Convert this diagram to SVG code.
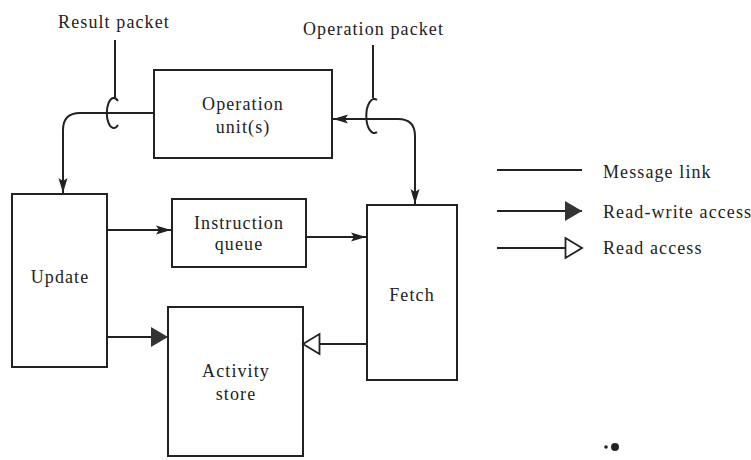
<svg xmlns="http://www.w3.org/2000/svg" width="751" height="460" viewBox="0 0 751 460">
<style>
text{font-family:"Liberation Serif",serif;font-size:18px;letter-spacing:1.1px;fill:#222}
.c{text-anchor:middle}
.box{fill:#fff;stroke:#222;stroke-width:2}
.ln{fill:none;stroke:#222;stroke-width:2}
</style>
<defs>
<marker id="msg" markerUnits="userSpaceOnUse" markerWidth="16" markerHeight="12" refX="15" refY="6" orient="auto-start-reverse">
<path d="M0,1.5 L15,6 L0,10.5 L3,6 Z" fill="#222"/>
</marker>
<marker id="rw" markerUnits="userSpaceOnUse" markerWidth="18" markerHeight="22" refX="17" refY="11" orient="auto">
<path d="M0,1 L17,11 L0,21 Z" fill="#333"/>
</marker>
<marker id="rd" markerUnits="userSpaceOnUse" markerWidth="20" markerHeight="24" refX="18" refY="12" orient="auto">
<path d="M1.5,2 L18,12 L1.5,22 Z" fill="#fff" stroke="#222" stroke-width="1.8"/>
</marker>
</defs>
<rect width="751" height="460" fill="#fff"/>

<g id="labels">
<text class="c" x="114" y="28">Result packet</text>
<text x="303" y="35">Operation packet</text>
</g>

<g id="operation-unit">
<rect class="box" x="154" y="70" width="178" height="88"/>
<text class="c" x="243" y="110">Operation</text>
<text class="c" x="243" y="133">unit(s)</text>
</g>
<g id="update">
<rect class="box" x="12" y="194" width="95" height="173"/>
<text class="c" x="60" y="283">Update</text>
</g>
<g id="instruction-queue">
<rect class="box" x="172" y="199" width="134" height="68"/>
<text class="c" x="239" y="229">Instruction</text>
<text class="c" x="239" y="250">queue</text>
</g>
<g id="fetch">
<rect class="box" x="367" y="205" width="90" height="175"/>
<text class="c" x="412" y="301">Fetch</text>
</g>
<g id="activity-store">
<rect class="box" x="168" y="307" width="135" height="149"/>
<text class="c" x="236" y="377">Activity</text>
<text class="c" x="236" y="400">store</text>
</g>

<g id="connectors">
<path class="ln" d="M154,113 H80 Q63,113 63,130 V193" marker-end="url(#msg)"/>
<path class="ln" d="M333,119 H398 Q415,119 415,136 V204" marker-start="url(#msg)" marker-end="url(#msg)"/>
<path class="ln" d="M115,40 V98"/>
<path class="ln" d="M118,101 A7,15 0 1 0 118,125"/>
<path class="ln" d="M373,45 V98"/>
<path class="ln" d="M377,100 A8,17 0 1 0 377,132"/>
<path class="ln" d="M107,230 H171" marker-end="url(#msg)"/>
<path class="ln" d="M306,237 H366" marker-end="url(#msg)"/>
<path class="ln" d="M107,337 H168" marker-end="url(#rw)"/>
<path class="ln" d="M367,344 H303" marker-end="url(#rd)"/>
</g>

<g id="legend">
<path class="ln" d="M497,170 H582"/>
<text x="603" y="178">Message link</text>
<path class="ln" d="M497,211 H582" marker-end="url(#rw)"/>
<text x="603" y="218">Read-write access</text>
<path class="ln" d="M497,248 H582" marker-end="url(#rd)"/>
<text x="603" y="254">Read access</text>
</g>
<g id="mark">
<circle cx="615" cy="447" r="4" fill="#222"/>
<circle cx="606" cy="447" r="1.8" fill="#222"/>
</g>
</svg>
